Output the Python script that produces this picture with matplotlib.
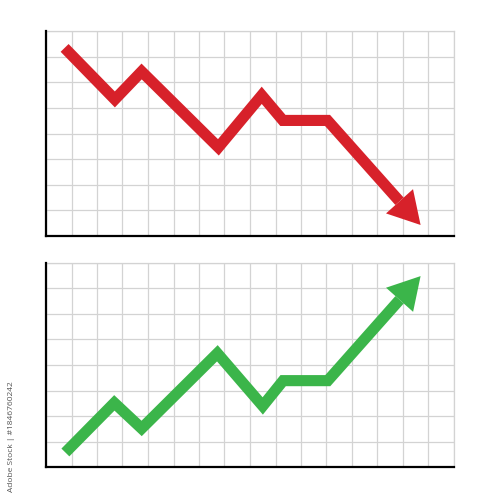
import numpy as np
import matplotlib
matplotlib.use("Agg")
import matplotlib.pyplot as plt

# Data (grid units: x 0..16, y 0..8)
red_x = [0.73, 2.70, 3.75, 6.76, 8.46, 9.29, 11.04, 14.69]
red_y = [7.34, 5.33, 6.42, 3.46, 5.49, 4.51, 4.51, 0.43]
green_x = [0.76, 2.68, 3.75, 6.72, 8.50, 9.30, 11.05, 14.69]
green_y = [0.58, 2.52, 1.52, 4.46, 2.40, 3.39, 3.39, 7.48]

RED = "#d7212a"
GREEN = "#3bb54a"
GRID = "#d3d3d3"

fig = plt.figure(figsize=(5, 5), dpi=100)
fig.patch.set_facecolor("white")


def draw_panel(rect, xs, ys, color):
    ax = fig.add_axes(rect)
    ax.set_xlim(0, 16)
    ax.set_ylim(0, 8)
    ax.set_xticks(np.arange(0, 17, 1))
    ax.set_yticks(np.arange(0, 9, 1))
    ax.tick_params(length=0, labelbottom=False, labelleft=False)
    ax.grid(True, color=GRID, linewidth=0.9)
    ax.set_axisbelow(True)
    for s in ("top", "right"):
        ax.spines[s].set_color(GRID)
        ax.spines[s].set_linewidth(0.9)
    for s in ("left", "bottom"):
        ax.spines[s].set_color("black")
        ax.spines[s].set_linewidth(1.6)
        ax.spines[s].set_zorder(5)

    xs = np.asarray(xs, float)
    ys = np.asarray(ys, float)
    head_len = 1.24
    head_hw = 0.71
    tip = np.array([xs[-1], ys[-1]])
    prev = np.array([xs[-2], ys[-2]])
    d = tip - prev
    d = d / np.hypot(*d)
    n = np.array([-d[1], d[0]])
    base = tip - d * head_len
    lx = np.append(xs[:-1], base[0])
    ly = np.append(ys[:-1], base[1])
    ax.plot(lx, ly, color=color, linewidth=8.0,
            solid_joinstyle="miter", solid_capstyle="butt", zorder=3)
    tri = np.array([base + n * head_hw, tip, base - n * head_hw])
    ax.fill(tri[:, 0], tri[:, 1], color=color, linewidth=0, zorder=4)
    return ax


draw_panel([0.092, 0.528, 0.816, 0.41], red_x, red_y, RED)
draw_panel([0.092, 0.0654, 0.816, 0.409], green_x, green_y, GREEN)

fig.text(0.024, 0.126, "Adobe Stock | #1846760242", rotation=90,
         ha="center", va="center", fontsize=6.0, color="#555555",
         family=["Open Sans", "DejaVu Sans"])

fig.savefig("out.png", dpi=100, facecolor="white")
